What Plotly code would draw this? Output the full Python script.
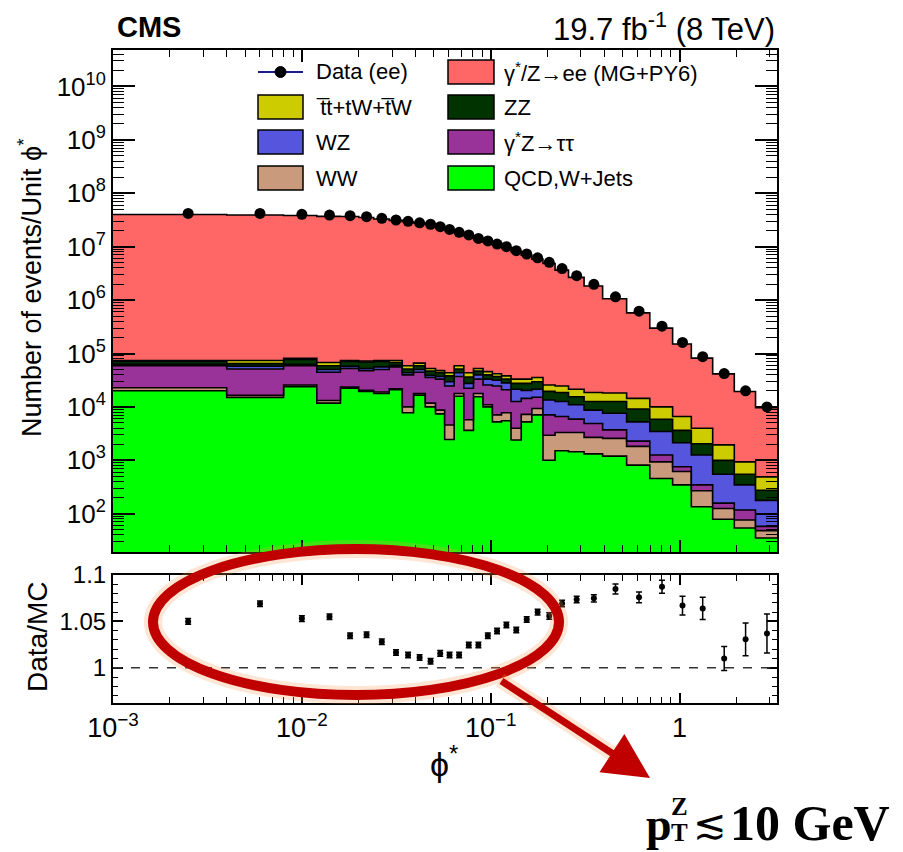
import numpy as np
import plotly.graph_objects as go

# ---------------- data ----------------
edges = [0.001, 0.004, 0.008, 0.012, 0.016, 0.020, 0.024, 0.029, 0.034, 0.039, 0.045,
         0.051, 0.057, 0.064, 0.072, 0.081, 0.091, 0.102, 0.114, 0.128, 0.145, 0.165,
         0.189, 0.219, 0.258, 0.312, 0.391, 0.524, 0.695, 0.918, 1.153, 1.496, 1.947,
         2.522, 3.277]

data_ee = [4.2e7, 4.2e7, 4.04e7, 3.9e7, 3.8e7, 3.65e7, 3.4e7, 3.16e7, 2.98e7, 2.8e7,
           2.63e7, 2.37e7, 2.1e7, 1.86e7, 1.66e7, 1.43e7, 1.28e7, 1.12e7, 1.0e7, 8.4e6,
           7.3e6, 6.2e6, 5.1e6, 3.9e6, 2.86e6, 1.97e6, 1.15e6, 6.2e5, 3.25e5, 1.61e5,
           8.7e4, 4.2e4, 2.0e4, 1.0e4]

dy_ee = [3.993e7, 3.922e7, 3.829e7, 3.690e7, 3.666e7, 3.518e7, 3.300e7, 3.102e7, 2.934e7,
         2.763e7, 2.607e7, 2.329e7, 2.068e7, 1.829e7, 1.616e7, 1.391e7, 1.233e7, 1.073e7,
         9.522e6, 8.038e6, 6.906e6, 5.813e6, 4.804e6, 3.622e6, 2.643e6, 1.814e6, 1.042e6,
         5.617e5, 2.889e5, 1.443e5, 7.779e4, 3.963e4, 1.848e4, 9.153e3]

ttbar_tw = [3300, 9570, 3660, 8720, 3340, 3260, 3340, 6520, 7600, 7190, 5710, 4210, 5630,
            7600, 7340, 5710, 5900, 4530, 4910, 5570, 5570, 5970, 6210, 5930, 5890, 6030,
            5610, 5334, 4112, 2976, 1939, 950, 384, 214]
zz = [7700, 7020, 14500, 8770, 13250, 16700, 14560, 7350, 7630, 8770, 7870, 6500, 8510,
      7630, 8770, 6960, 6700, 5530, 4930, 6160, 7125, 8130, 6010, 6030, 4520, 3880, 5000,
      3872, 2421, 1493, 783, 450, 203, 97.6]
wz = [4200, 6260, 4200, 5450, 5060, 4620, 6115, 4020, 3840, 5450, 3420, 4040, 4965, 6500,
      5155, 6700, 7410, 7080, 7290, 8790, 5960, 6240, 6410, 5980, 5080, 3810, 3870, 2957,
      2208, 1379, 912, 391, 229, 120]
dy_tautau = [36000, 34700, 33200, 31500, 29000, 27450, 31060, 34360, 29800, 26900, 23730,
             24400, 19980, 19370, 16630, 15330, 14740, 17470, 13130, 8610, 7210, 5800, 4130,
             3300, 2580, 2210, 1145, 471, 326, 142, 78, 32.6, 41.6, 9.6]
ww = [2900, 1460, 1700, 1430, 1050, 920, 1270, 985, 2240, 1190, 1750, 1300, 2120, 1930,
      2120, 2300, 965, 1830, 2270, 1580, 2000, 2250, 1950, 1800, 1870, 1370, 1370, 1007,
      476, 270, 134, 46.5, 22, 13.2]
qcd_wjets = [20000, 15100, 24000, 11750, 22400, 19500, 17800, 20900, 7760, 16600, 10000,
             7410, 2455, 15850, 3630, 15490, 10000, 5250, 5500, 2400, 5250, 7080, 1000,
             1510, 1445, 1320, 1200, 813, 457, 347, 135, 79, 54, 35]

ratio = [1.050, 1.069, 1.053, 1.055, 1.0345, 1.0356, 1.028, 1.0165, 1.0137, 1.011, 1.007,
         1.0155, 1.0137, 1.0137, 1.0245, 1.0245, 1.0345, 1.0396, 1.046, 1.0407, 1.052,
         1.060, 1.0558, 1.0694, 1.0737, 1.0748, 1.085, 1.076, 1.0874, 1.067, 1.064, 1.010,
         1.0306, 1.037]
ratio_err = [0.003, 0.003, 0.003, 0.003, 0.003, 0.003, 0.003, 0.003, 0.003, 0.003, 0.003,
             0.003, 0.003, 0.003, 0.003, 0.003, 0.003, 0.003, 0.003, 0.003, 0.003, 0.003,
             0.0035, 0.0035, 0.0035, 0.004, 0.0054, 0.0058, 0.007, 0.010, 0.012, 0.013,
             0.0176, 0.021]

x_tick_vals = [0.001, 0.01, 0.1, 1]
x_tick_text = ["10<sup>\u22123</sup>", "10<sup>\u22122</sup>", "10<sup>\u22121</sup>", "1"]
y_decades = [2, 3, 4, 5, 6, 7, 8, 9, 10]
r_tick_vals = [1.0, 1.05, 1.1]
r_tick_text = ["1", "1.05", "1.1"]

# ---------------- styling ----------------
FONT = "Liberation Sans, Arial, Helvetica, sans-serif"
SERIF = "Liberation Serif, DejaVu Serif, serif"
col_qcd, col_ww, col_tt2, col_wz, col_zz, col_ttb, col_dy = (
    "#00FF00", "#C99A7C", "#993399", "#5555DD", "#003300", "#CCCC00", "#FF6666")

W, H = 903, 852
L, R, T, B = 113, 777, 50, 703


def px(x):
    return (x - L) / (R - L)


def py(y):
    return (B - y) / (B - T)


centers = [(a + b) / 2 for a, b in zip(edges[:-1], edges[1:])]
layers = [(qcd_wjets, col_qcd), (ww, col_ww), (dy_tautau, col_tt2), (wz, col_wz),
          (zz, col_zz), (ttbar_tw, col_ttb), (dy_ee, col_dy)]
cum = np.cumsum(np.array([np.array(v, dtype=float) for v, _ in layers]), axis=0)

fig = go.Figure()
fig.add_trace(go.Scatter(x=edges, y=[1.0] * len(edges), mode="lines",
                         line=dict(width=0, shape="hv"), showlegend=False,
                         hoverinfo="skip", xaxis="x", yaxis="y"))
for (vals, color), top in zip(layers, cum):
    yy = list(top) + [top[-1]]
    fig.add_trace(go.Scatter(x=edges, y=yy, mode="lines",
                             line=dict(shape="hv", color="black", width=1.6),
                             fill="tonexty", fillcolor=color, showlegend=False,
                             hoverinfo="skip", xaxis="x", yaxis="y"))

fig.add_trace(go.Scatter(x=centers, y=data_ee, mode="markers",
                         marker=dict(color="black", size=11), showlegend=False,
                         xaxis="x", yaxis="y"))

fig.add_trace(go.Scatter(x=centers, y=ratio, mode="markers",
                         marker=dict(color="black", size=6),
                         error_y=dict(type="data", array=ratio_err, color="black",
                                      thickness=1.5, width=3),
                         showlegend=False, xaxis="x2", yaxis="y2"))

# minor ticks
x_minor = [k * 10.0 ** e for e in range(-3, 1) for k in range(2, 10) if k * 10.0 ** e < 3.277]
y_minor = [k * 10.0 ** e for e in range(1, 11) for k in range(2, 10)]
y_minor = [v for v in y_minor if 10 ** 1.283 < v < 10 ** 10.683]
r_minor = [round(0.96 + 0.01 * i, 2) for i in range(0, 15)]

xr = [-3, np.log10(edges[-1])]
ax_common = dict(showline=True, linecolor="black", linewidth=2, mirror="allticks",
                 ticks="inside", tickcolor="black", tickwidth=1.5, showgrid=False,
                 zeroline=False)

up_dom = [(B - 552) / (B - T), 1.0]
lo_dom = [0.0, (B - 575) / (B - T)]

fig.update_layout(
    width=W, height=H,
    margin=dict(l=L, r=W - R, t=T, b=H - B),
    paper_bgcolor="white", plot_bgcolor="white",
    font=dict(family=FONT, color="black", size=26),
    showlegend=False,
    xaxis=dict(type="log", range=xr, domain=[0, 1], anchor="y", showticklabels=False,
               tickvals=x_tick_vals, ticklen=12,
               minor=dict(tickmode="array", tickvals=x_minor, ticks="inside",
                          ticklen=7, tickcolor="black", tickwidth=1.2, showgrid=False),
               **ax_common),
    yaxis=dict(type="log", range=[1.283, 10.683], domain=up_dom, anchor="x",
               tickvals=[10.0 ** d for d in y_decades],
               ticktext=["10<sup>%d</sup>" % d for d in y_decades],
               ticklen=22, tickfont=dict(size=26),
               minor=dict(tickmode="array", tickvals=y_minor, ticks="inside",
                          ticklen=11, tickcolor="black", tickwidth=1.2, showgrid=False),
               **ax_common),
    xaxis2=dict(type="log", range=xr, domain=[0, 1], anchor="y2",
                tickvals=x_tick_vals, ticktext=x_tick_text, ticklen=10,
                tickfont=dict(size=27),
                minor=dict(tickmode="array", tickvals=x_minor, ticks="inside",
                           ticklen=6, tickcolor="black", tickwidth=1.2, showgrid=False),
                **ax_common),
    yaxis2=dict(range=[0.962, 1.1], domain=lo_dom, anchor="x2",
                tickvals=r_tick_vals, ticktext=r_tick_text, ticklen=10,
                tickfont=dict(size=24),
                minor=dict(tickmode="array", tickvals=r_minor, ticks="inside",
                           ticklen=5, tickcolor="black", tickwidth=1.2, showgrid=False),
                **ax_common),
)

shapes = []
annotations = []

# dashed line at ratio 1
shapes.append(dict(type="line", xref="x2 domain", yref="y2", x0=0, x1=1, y0=1, y1=1,
                   line=dict(color="#333333", width=1.5, dash="dash")))

# header
annotations.append(dict(text="<b>CMS</b>", x=px(115), y=py(27), xref="paper", yref="paper",
                        xanchor="left", yanchor="middle", showarrow=False,
                        font=dict(size=29, family=FONT)))
annotations.append(dict(text="19.7 fb<sup>-1</sup> (8 TeV)", x=1.0, y=py(27), xref="paper",
                        yref="paper", xanchor="right", yanchor="middle", showarrow=False,
                        font=dict(size=31, family=FONT)))

# axis titles
annotations.append(dict(text="Number of events/Unit \u03d5<sup>*</sup>", x=px(30), y=py(288),
                        xref="paper", yref="paper", textangle=-90, showarrow=False,
                        xanchor="center", yanchor="middle", font=dict(size=27, family=FONT)))
annotations.append(dict(text="Data/MC", x=px(37), y=py(637), xref="paper", yref="paper",
                        textangle=-90, showarrow=False, xanchor="center", yanchor="middle",
                        font=dict(size=28, family=FONT)))
annotations.append(dict(text="\u03d5<sup>*</sup>", x=px(444), y=py(762), xref="paper",
                        yref="paper", showarrow=False, xanchor="center", yanchor="middle",
                        font=dict(size=34, family=FONT)))

# legend (drawn manually, two columns)
rows = [72, 107, 142, 178]
left_entries = [("Data (ee)", None), ("t\u0305t+tW+t\u0305W", col_ttb), ("WZ", col_wz), ("WW", col_ww)]
right_entries = [("\u03b3<sup>*</sup>/Z\u2192ee (MG+PY6)", col_dy), ("ZZ", col_zz),
                 ("\u03b3<sup>*</sup>Z\u2192\u03c4\u03c4", col_tt2), ("QCD,W+Jets", col_qcd)]
for (bx0, bx1, tx), entries in [((258, 303, 314), left_entries), ((448, 494, 502), right_entries)]:
    for yrow, (label, color) in zip(rows, entries):
        if color is None:
            shapes.append(dict(type="line", xref="paper", yref="paper", x0=px(bx0), x1=px(bx1),
                               y0=py(yrow), y1=py(yrow), line=dict(color="#1c1c8c", width=2)))
            shapes.append(dict(type="circle", xref="paper", yref="paper",
                               x0=px((bx0 + bx1) / 2 - 5.5), x1=px((bx0 + bx1) / 2 + 5.5),
                               y0=py(yrow + 5.5), y1=py(yrow - 5.5),
                               fillcolor="black", line=dict(color="black", width=1)))
        else:
            shapes.append(dict(type="rect", xref="paper", yref="paper", x0=px(bx0), x1=px(bx1),
                               y0=py(yrow + 12), y1=py(yrow - 12), fillcolor=color,
                               line=dict(color="black", width=1.5)))
        annotations.append(dict(text=label, x=px(tx), y=py(yrow), xref="paper", yref="paper",
                                xanchor="left", yanchor="middle", showarrow=False,
                                font=dict(size=22, family=FONT)))

# overlay highlight: ellipse, arrow and note
shapes.append(dict(type="circle", xref="paper", yref="paper", x0=px(153), x1=px(559),
                   y0=py(695), y1=py(549), line=dict(color="rgba(255,150,80,0.25)", width=18),
                   layer="above"))
shapes.append(dict(type="circle", xref="paper", yref="paper", x0=px(153), x1=px(559),
                   y0=py(695), y1=py(549), line=dict(color="#C00000", width=10),
                   layer="above"))
shapes.append(dict(type="line", xref="paper", yref="paper", x0=px(500), x1=px(630),
                   y0=py(680), y1=py(765), line=dict(color="rgba(255,150,80,0.25)", width=15),
                   layer="above"))
annotations.append(dict(text="", x=px(650), y=py(778), xref="paper", yref="paper",
                        ax=-150, ay=-98, axref="pixel", ayref="pixel", showarrow=True,
                        arrowhead=2, arrowsize=1.3, arrowwidth=7, arrowcolor="#C00000",
                        standoff=0))
annotations.append(dict(text="<b>p</b>", x=px(659), y=py(824), xref="paper", yref="paper",
                        xanchor="center", yanchor="middle", showarrow=False,
                        font=dict(size=46, family=SERIF, color="black")))
annotations.append(dict(text="<b>Z</b>", x=px(679), y=py(806), xref="paper", yref="paper",
                        xanchor="center", yanchor="middle", showarrow=False,
                        font=dict(size=25, family=SERIF, color="black")))
annotations.append(dict(text="<b>T</b>", x=px(679), y=py(833), xref="paper", yref="paper",
                        xanchor="center", yanchor="middle", showarrow=False,
                        font=dict(size=25, family=SERIF, color="black")))
annotations.append(dict(text="\u2272", x=px(710), y=py(824), xref="paper", yref="paper",
                        xanchor="center", yanchor="middle", showarrow=False,
                        font=dict(size=40, family=SERIF, color="black")))
annotations.append(dict(text="<b>10 GeV</b>", x=px(728), y=py(823), xref="paper",
                        yref="paper", xanchor="left", yanchor="middle", showarrow=False,
                        font=dict(size=50, family=SERIF, color="black")))

fig.update_layout(shapes=shapes, annotations=annotations)
fig.write_html("out.html")
